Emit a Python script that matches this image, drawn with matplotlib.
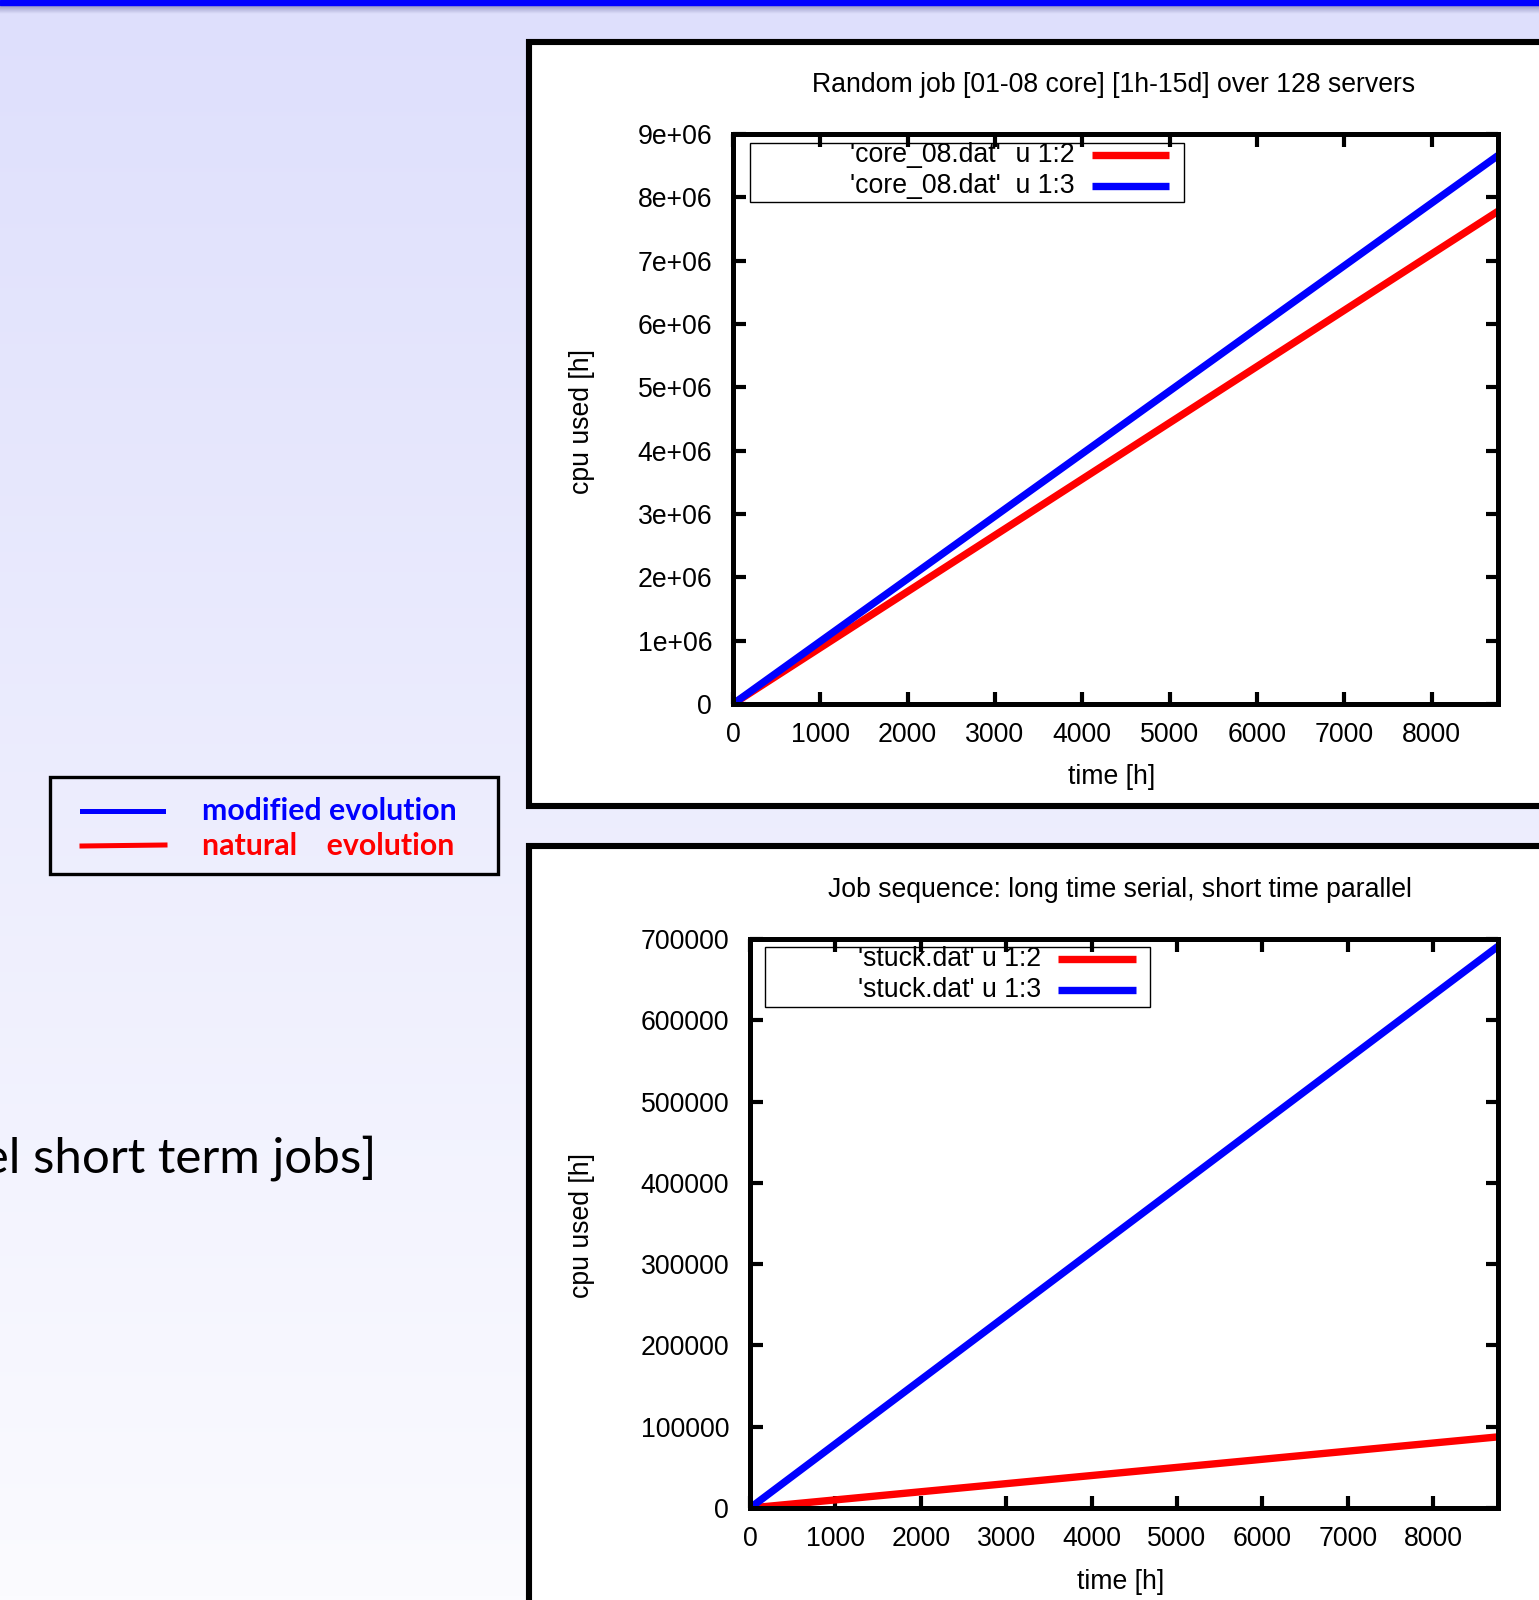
import numpy as np
import matplotlib
matplotlib.use("Agg")
import matplotlib.pyplot as plt
from matplotlib.patches import Rectangle

W, H = 1539, 1600
DPI = 100

# data
hours = [0, 8760]
core08_natural = [0, 7.78e6]
core08_modified = [0, 8.66e6]
stuck_natural = [0, 8.75e4]
stuck_modified = [0, 6.91e5]

xticks = [0, 1000, 2000, 3000, 4000, 5000, 6000, 7000, 8000]
top_yticks = [0, 1e6, 2e6, 3e6, 4e6, 5e6, 6e6, 7e6, 8e6, 9e6]
top_yticklabels = ["0", "1e+06", "2e+06", "3e+06", "4e+06", "5e+06",
                   "6e+06", "7e+06", "8e+06", "9e+06"]
bottom_yticks = [0, 100000, 200000, 300000, 400000, 500000, 600000, 700000]
bottom_yticklabels = ["0", "100000", "200000", "300000", "400000",
                      "500000", "600000", "700000"]

top_title = "Random job [01-08 core] [1h-15d] over 128 servers"
bottom_title = "Job sequence: long time serial, short time parallel"
top_keys = ["'core_08.dat'  u 1:2", "'core_08.dat'  u 1:3"]
bottom_keys = ["'stuck.dat' u 1:2", "'stuck.dat' u 1:3"]
slide_keys = ["modified evolution", "natural    evolution"]
slide_text = "parallel short term jobs]"

RED = "#ff0000"
BLUE = "#0000ff"
GP_FONT = ["Liberation Sans", "DejaVu Sans"]
GP_SIZE = 19.2
LINE_W = 5.3


def fig_rect(x0, y0, x1, y1):
  return [x0 / W, 1 - y1 / H, (x1 - x0) / W, (y1 - y0) / H]


def fx(x):
  return x / W


def fy(y):
  return 1 - y / H


fig = plt.figure(figsize=(W / DPI, H / DPI), dpi=DPI)

# slide background: lavender gradient with a blue bar on top
bg = fig.add_axes([0, 0, 1, 1])
bg.set_xlim(0, W)
bg.set_ylim(H, 0)
bg.axis("off")
top_col = np.array([222, 223, 252]) / 255.0
bot_col = np.array([251, 251, 255]) / 255.0
t = np.linspace(0, 1, 400)[:, None]
grad = (1 - t) * top_col + t * bot_col
bg.imshow(grad[:, None, :], extent=[0, W, H, 0], aspect="auto", zorder=0)
bg.add_patch(Rectangle((0, 0), W, 5, color=BLUE, zorder=2))
shadow = np.linspace(0, 1, 20)[:, None]
shade = (1 - shadow) * np.array([150, 150, 195]) / 255.0 + shadow * top_col
bg.imshow(shade[:, None, :], extent=[0, W, 14, 5], aspect="auto", zorder=1)

# black frames of the two pasted gnuplot pictures
bg.add_patch(Rectangle((529, 42), 1100, 764, facecolor="white",
                       edgecolor="black", lw=4.4, zorder=3))
bg.add_patch(Rectangle((529, 846), 1100, 800, facecolor="white",
                       edgecolor="black", lw=4.4, zorder=3))

# slide legend box on the left
bg.add_patch(Rectangle((50, 777), 448, 97, facecolor="none",
                       edgecolor="black", lw=2.4, zorder=3))
bg.plot([82, 163], [811, 811], color=BLUE, lw=3.6, zorder=4)
bg.plot([82, 165], [846, 845], color=RED, lw=3.6, zorder=4)
bg.text(202, 811, slide_keys[0], color=BLUE, fontsize=21.8, family="Lato",
        fontweight="bold", va="center", ha="left", zorder=4)
bg.text(202, 846, slide_keys[1], color=RED, fontsize=21.8, family="Lato",
        fontweight="bold", va="center", ha="left", zorder=4)

# cut-off slide bullet text
bg.text(376, 1158, slide_text, color="black", fontsize=35.5, family="Lato",
        va="center", ha="right", zorder=4)


def draw_chart(rect, natural, modified, ylim, yticks, yticklabels, pad_y):
  ax = fig.add_axes(fig_rect(*rect))
  ax.plot(hours, natural, color=RED, lw=LINE_W, solid_capstyle="butt")
  ax.plot(hours, modified, color=BLUE, lw=LINE_W, solid_capstyle="butt")
  ax.set_xlim(0, 8760)
  ax.set_ylim(ylim)
  ax.set_xticks(xticks)
  ax.set_xticklabels([str(v) for v in xticks], family=GP_FONT)
  ax.set_yticks(yticks)
  ax.set_yticklabels(yticklabels, family=GP_FONT)
  for sp in ax.spines.values():
    sp.set_linewidth(3.6)
  ax.tick_params(direction="in", length=9, width=3, top=True, right=True,
                 labelsize=GP_SIZE)
  ax.tick_params(axis="y", pad=pad_y)
  ax.tick_params(axis="x", pad=13)
  return ax


ax1 = draw_chart((733, 134, 1498, 704), core08_natural, core08_modified,
                 (0, 9e6), top_yticks, top_yticklabels, 15)
ax2 = draw_chart((750, 939, 1498, 1508), stuck_natural, stuck_modified,
                 (0, 700000), bottom_yticks, bottom_yticklabels, 15)

# titles and axis labels, gnuplot style
fig.text(fx(1114), fy(85), top_title, ha="center", va="center",
         family=GP_FONT, fontsize=GP_SIZE)
fig.text(fx(1120), fy(890), bottom_title, ha="center", va="center",
         family=GP_FONT, fontsize=GP_SIZE)
for yc in (421, 1225):
  fig.text(fx(582), fy(yc), "cpu used [h]", ha="center", va="center",
           rotation=90, family=GP_FONT, fontsize=GP_SIZE)
fig.text(fx(1112), fy(777), "time [h]", ha="center", va="center",
         family=GP_FONT, fontsize=GP_SIZE)
fig.text(fx(1121), fy(1582), "time [h]", ha="center", va="center",
         family=GP_FONT, fontsize=GP_SIZE)

# gnuplot keys (text right aligned, sample to the right)
fg = fig.add_axes([0, 0, 1, 1])
fg.set_xlim(0, W)
fg.set_ylim(H, 0)
fg.axis("off")
fg.patch.set_alpha(0)


def draw_key(box, text_right, rows, sample, labels):
  fg.add_patch(Rectangle((box[0], box[1]), box[2] - box[0], box[3] - box[1],
                         facecolor="none", edgecolor="black", lw=1.0))
  for row, lab, col in zip(rows, labels, (RED, BLUE)):
    fg.text(text_right, row, lab, ha="right", va="center",
            family=GP_FONT, fontsize=GP_SIZE)
    fg.plot(sample, [row, row], color=col, lw=LINE_W, solid_capstyle="butt")


draw_key((750, 143, 1184, 202), 1075, (155, 186), (1092, 1169), top_keys)
draw_key((765, 947, 1150, 1007), 1041, (959, 990), (1058, 1136), bottom_keys)

fig.savefig("out.png", dpi=DPI)
